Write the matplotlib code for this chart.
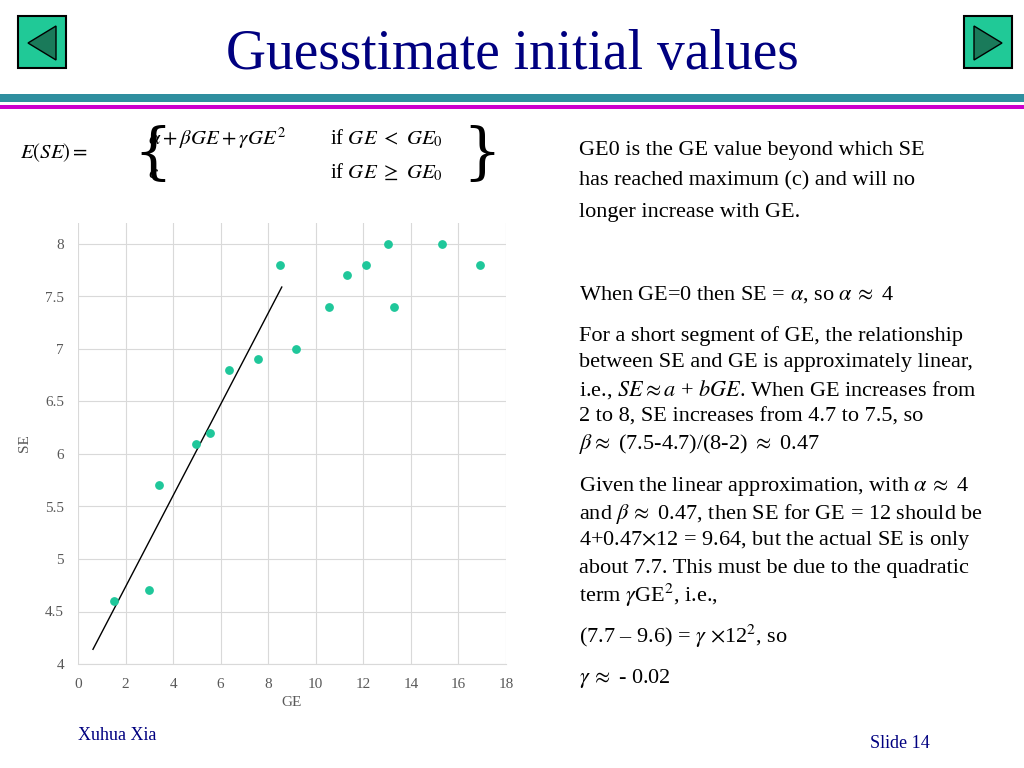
import matplotlib
matplotlib.use("Agg")
import matplotlib.pyplot as plt
from matplotlib.patches import Rectangle, Polygon

ge = [1.5, 3.0, 3.4, 4.95, 5.55, 6.35, 7.55, 8.5, 9.15, 10.55, 11.3, 12.1, 13.05, 13.3, 15.3, 16.9]
se = [4.6, 4.7, 5.7, 6.1, 6.2, 6.8, 6.9, 7.8, 7.0, 7.4, 7.7, 7.8, 8.0, 7.4, 8.0, 7.8]
line_ge = [0.63, 8.57]
line_se = [4.14, 7.59]
xticks = [0, 2, 4, 6, 8, 10, 12, 14, 16, 18]
yticks = [4, 4.5, 5, 5.5, 6, 6.5, 7, 7.5, 8]

plt.rcParams["font.family"] = "Liberation Serif"
plt.rcParams["mathtext.fontset"] = "stix"
fig = plt.figure(figsize=(10.24, 7.68), dpi=100)
W, H = 1024, 768
def fx(x): return x / W
def fy(y): return 1 - y / H

fig.text(0.5, fy(55), "Guesstimate initial values", ha="center", va="center",
         fontsize=40, color="#000080")
for x0, left in [(18, True), (964, False)]:
    fig.patches.append(Rectangle((fx(x0), fy(68)), 48 / W, 52 / H, transform=fig.transFigure,
                                 facecolor="#20c997", edgecolor="black", lw=1.5))
    if left:
        pts = [(fx(x0 + 38), fy(26)), (fx(x0 + 38), fy(60)), (fx(x0 + 10), fy(43))]
    else:
        pts = [(fx(x0 + 10), fy(26)), (fx(x0 + 10), fy(60)), (fx(x0 + 38), fy(43))]
    fig.patches.append(Polygon(pts, closed=True, transform=fig.transFigure,
                               facecolor="#1a7a5a", edgecolor="black", lw=1))
fig.patches.append(Rectangle((0, fy(102)), 1, 8 / H, transform=fig.transFigure, facecolor="#2f8f9f", edgecolor="none"))
fig.patches.append(Rectangle((0, fy(109)), 1, 4 / H, transform=fig.transFigure, facecolor="#cc00cc", edgecolor="none"))

fig.text(fx(20), fy(153), r"$E(SE)=$", fontsize=15, va="center")
fig.text(fx(133), fy(155), "{", fontsize=44, va="center", family="DejaVu Serif", fontweight="light")
fig.text(fx(462), fy(155), "}", fontsize=44, va="center", family="DejaVu Serif", fontweight="light")
fig.text(fx(148), fy(138), r"$\alpha+\beta GE+\gamma GE^2$", fontsize=15, va="center")
fig.text(fx(148), fy(173), r"$c$", fontsize=15, va="center")
fig.text(fx(330), fy(138), r"if $GE\ <\ GE_0$", fontsize=15, va="center")
fig.text(fx(330), fy(173), r"if $GE\ \geq\ GE_0$", fontsize=15, va="center")

fs = 16
rt = [
    (150, "GE0 is the GE value beyond which SE"),
    (181, "has reached maximum (c) and will no"),
    (212, "longer increase with GE."),
    (295, r"When GE=0 then SE = $\alpha$, so $\alpha\,\approx$ 4"),
    (336, "For a short segment of GE, the relationship"),
    (363, "between SE and GE is approximately linear,"),
    (390, r"i.e., $SE\approx a$ + $bGE$. When GE increases from"),
    (417, "2 to 8, SE increases from 4.7 to 7.5, so"),
    (444, r"$\beta\approx$ (7.5-4.7)/(8-2) $\approx$ 0.47"),
    (487, r"Given the linear approximation, with $\alpha\,\approx$ 4"),
    (514, r"and $\beta\,\approx$ 0.47, then SE for GE = 12 should be"),
    (541, r"4+0.47$\times$12 = 9.64, but the actual SE is only"),
    (568, "about 7.7. This must be due to the quadratic"),
    (595, r"term $\gamma$GE$^2$, i.e.,"),
    (636, r"(7.7 – 9.6) = $\gamma$ $\times$12$^2$, so"),
    (678, r"$\gamma\,\approx$ - 0.02"),
]
for y, t in rt:
    fig.text(fx(579), fy(y), t, fontsize=fs, va="center")

fig.text(fx(78), fy(736), "Xuhua Xia", fontsize=13, color="#000080", va="center")
fig.text(fx(870), fy(743), "Slide 14", fontsize=13, color="#000080", va="center")

ax = fig.add_axes([fx(78), fy(664), (506 - 78) / W, (664 - 223) / H])
ax.scatter(ge, se, s=28, color="#1fc79a", zorder=3)
ax.plot(line_ge, line_se, color="black", lw=1)
ax.set_xlim(0, 18)
ax.set_ylim(4, 8.2)
ax.set_xticks(xticks)
ax.set_yticks(yticks)
ax.set_yticklabels([f"{v:g}" for v in yticks])
ax.grid(True, color="#d9d9d9", lw=0.8)
for s in ["top", "right", "left"]:
    ax.spines[s].set_visible(False)
ax.spines["bottom"].set_color("#d9d9d9")
ax.tick_params(length=0, labelsize=11, colors="#595959", pad=10)
ax.set_xlabel("GE", fontsize=11, color="#595959")
ax.set_ylabel("SE", fontsize=11, color="#595959", labelpad=10)

fig.savefig("out.png", dpi=100)
